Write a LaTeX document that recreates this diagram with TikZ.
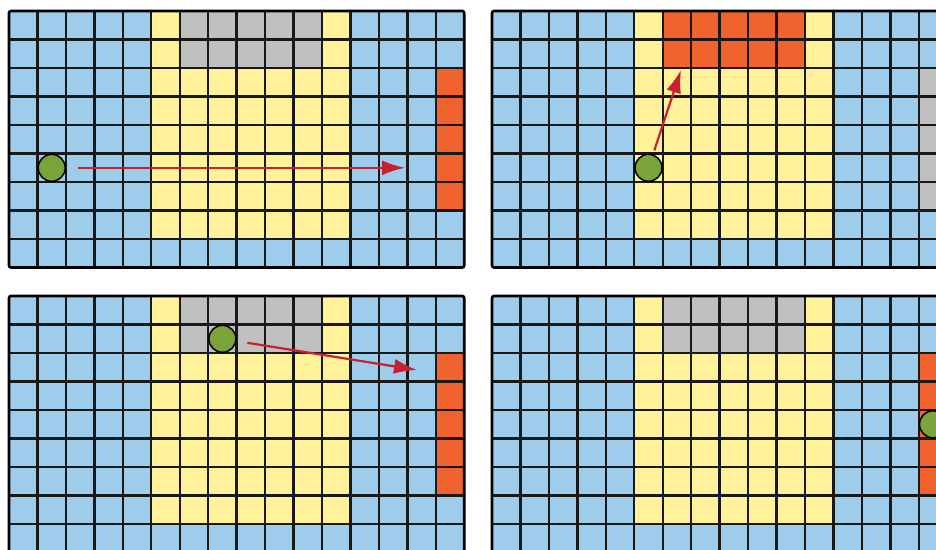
\documentclass[tikz,border=0pt]{standalone}
\usepackage{tikz}
\usetikzlibrary{arrows.meta,positioning,calc}

\definecolor{cellblue}{RGB}{158,204,237}
\definecolor{cellyellow}{RGB}{255,242,153}
\definecolor{cellgray}{RGB}{192,192,192}
\definecolor{cellorange}{RGB}{240,98,46}
\definecolor{ballgreen}{RGB}{122,164,58}
\definecolor{moved}{RGB}{200,32,46}

\tikzset{
  gridline/.style={line width=2.4pt, black!90},
  frame/.style={line width=2.6pt, black, rounded corners=2pt},
  ball/.style={circle, draw=black, line width=1.5pt, fill=ballgreen, minimum size=27pt, inner sep=0pt},
  move/.style={draw=moved, line width=2.2pt, -{Latex[length=23pt,width=15pt]}}
}

\begin{document}
\begin{tikzpicture}[x=1pt, y=-1pt]
            \useasboundingbox (0,0) rectangle (936,549);
            \clip (0,0) rectangle (936,549);
            \foreach \px/\py/\topc/\sidec in {9/11/cellgray/cellorange, 492/11/cellorange/cellgray,
                                             9/296/cellgray/cellorange, 492/296/cellgray/cellorange} {
                \begin{scope}[shift={(\px,\py)}, x=28.45pt, y=-28.5pt]
                    \fill[cellblue] (0,0) rectangle (16,9);
                    \fill[cellyellow] (5,0) rectangle (12,8);
                    \fill[\topc] (6,0) rectangle (11,2);
                    \fill[\sidec] (15,2) rectangle (16,7);
                    \foreach \i in {1,...,15} \draw[gridline] (\i,0) -- (\i,9);
                    \foreach \j in {1,...,8} \draw[gridline] (0,\j) -- (16,\j);
                    \draw[frame] (0,0) rectangle (16,9);
                \end{scope}
            }
            \node[ball] (b1) at (51.7,167.8) {};
            \node[ball] (b2) at (648.5,167.8) {};
            \node[ball] (b3) at (222.4,338.8) {};
            \node[ball] (b4) at (933,424.3) {};
            \coordinate (t1) at (405,167.8);
            \coordinate (t2) at (681,70);
            \coordinate (t3) at (417,370);
            \draw[move, shorten <=12pt] (b1) -- (t1);
            \draw[move, shorten <=4pt] (b2) -- (t2);
            \draw[move, shorten <=11pt] (b3) -- (t3);
        \end{tikzpicture}
\end{document}
